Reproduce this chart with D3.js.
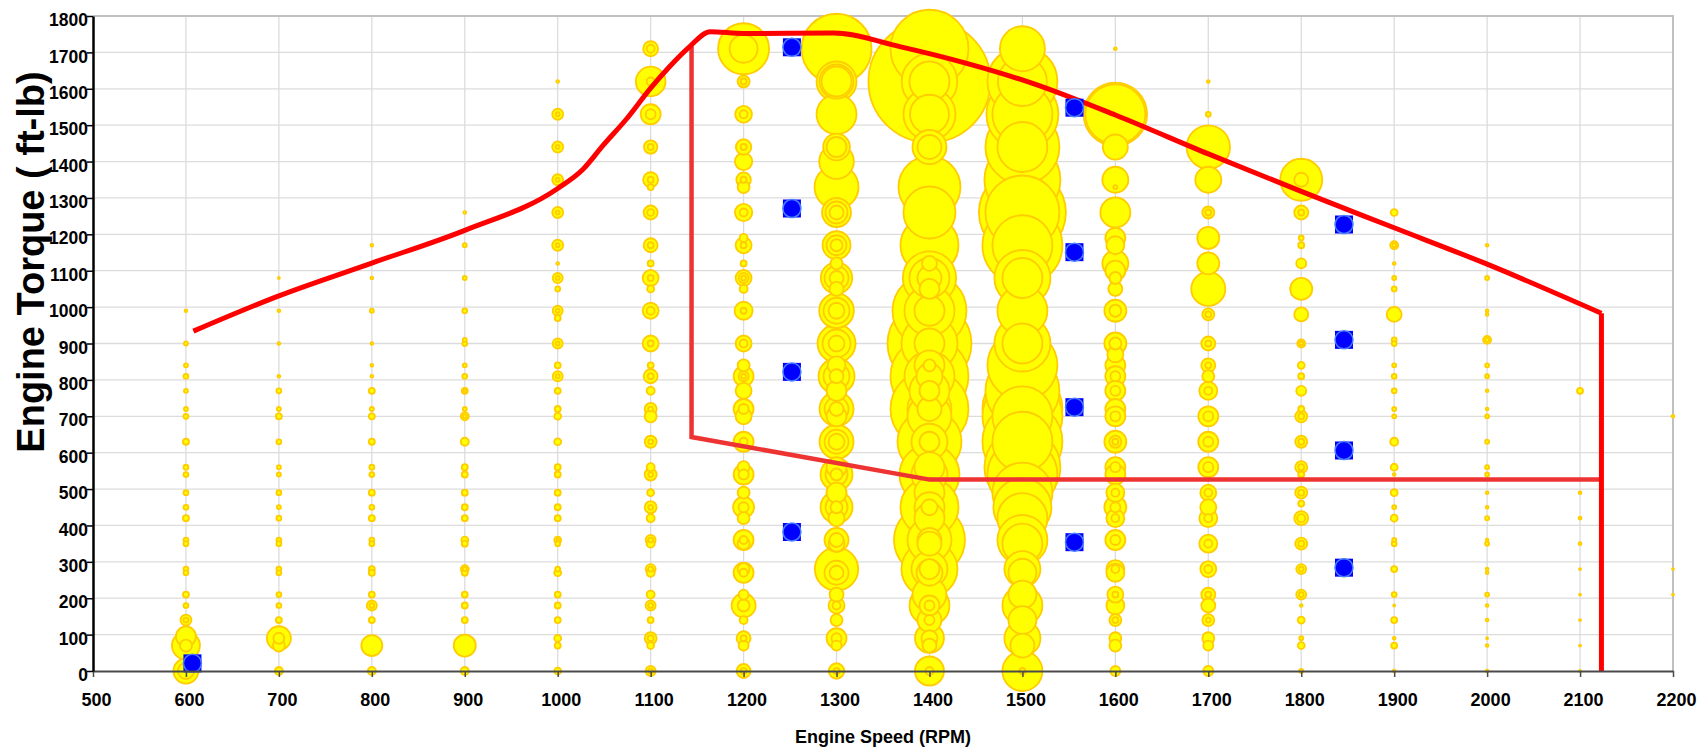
<!DOCTYPE html>
<html>
<head>
<meta charset="utf-8">
<script src="https://cdn.jsdelivr.net/npm/d3@7/dist/d3.min.js"></script>
<style>
    body { margin: 0; background: #ffffff; }
    svg { display: block; }
</style>
</head>
<body>
<script>

// engine speed columns (rpm)
var speeds = [600, 700, 800, 900, 1000, 1100, 1200, 1300, 1400, 1500, 1600, 1700, 1800, 1900, 2000, 2100, 2200];

// bubble points per speed column: [torque (ft-lb), time weight]
var col600 = [[990,2],[900,4],[840,4],[810,6],[770,4],[720,4],[700,6],[630,9],[560,6],[540,6],[490,6],[450,6],[420,9],[360,6],[350,6],[280,6],[270,6],[210,9],[180,6],[140,30],[140,6],[95,100],[70,196],[70,36],[0,156],[0,64]];
var col700 = [[1080,1],[990,2],[900,2],[810,2],[770,6],[720,4],[700,9],[630,6],[560,4],[540,4],[490,6],[450,4],[420,6],[360,6],[350,6],[280,6],[270,6],[210,6],[180,6],[140,9],[90,144],[90,30],[70,36],[0,16]];
var col800 = [[1170,2],[1080,2],[990,4],[900,2],[840,2],[810,2],[770,9],[720,4],[700,9],[630,9],[560,6],[540,6],[490,9],[450,6],[420,9],[360,6],[350,6],[280,9],[270,9],[210,9],[180,25],[180,6],[140,9],[70,110],[0,16]];
var col900 = [[1260,2],[1170,4],[1080,4],[990,6],[910,4],[900,6],[840,4],[810,6],[770,9],[770,2],[720,4],[700,16],[700,4],[630,16],[560,9],[540,9],[490,9],[450,9],[420,9],[360,12],[350,9],[280,16],[280,4],[270,9],[210,9],[180,9],[140,9],[70,121],[0,16]];
var col1000 = [[1620,2],[1530,30],[1530,4],[1440,30],[1440,4],[1350,30],[1350,4],[1260,30],[1260,4],[1170,30],[1170,4],[1120,2],[1080,25],[1080,4],[1050,6],[990,25],[990,4],[970,9],[900,25],[900,4],[840,9],[810,25],[810,4],[770,9],[720,9],[700,12],[630,12],[560,9],[540,9],[490,9],[450,9],[420,9],[360,12],[360,2],[350,6],[280,6],[270,12],[210,9],[180,9],[140,9],[90,12],[70,9],[0,12]];
var col1100 = [[1710,56],[1710,16],[1620,220],[1620,16],[1530,100],[1530,25],[1440,45],[1440,9],[1350,56],[1350,9],[1330,9],[1260,49],[1260,12],[1170,49],[1170,9],[1120,9],[1080,64],[1080,9],[1050,12],[990,64],[990,16],[900,64],[900,9],[840,9],[810,49],[810,9],[770,16],[720,36],[720,6],[700,36],[630,36],[630,6],[560,16],[540,36],[540,6],[490,12],[450,36],[450,6],[420,16],[360,25],[360,6],[350,16],[280,25],[280,6],[270,16],[210,16],[180,25],[180,6],[140,9],[90,36],[90,9],[70,12],[0,25],[0,6]];
var col1200 = [[1710,650],[1710,196],[1620,36],[1620,9],[1530,70],[1530,16],[1440,60],[1440,9],[1400,75],[1350,53],[1350,9],[1330,36],[1260,75],[1260,16],[1190,16],[1170,64],[1170,9],[1120,9],[1080,64],[1080,25],[1080,6],[1050,16],[990,81],[990,9],[900,64],[900,16],[840,36],[810,100],[810,25],[810,6],[770,64],[720,100],[720,25],[700,64],[630,100],[630,16],[560,36],[540,100],[540,25],[490,36],[450,110],[450,25],[420,36],[360,100],[360,16],[350,36],[280,36],[270,100],[270,16],[210,25],[180,144],[180,36],[140,16],[90,49],[90,9],[70,25],[0,49],[0,9]];
var col1300 = [[1710,1225],[1620,400],[1620,289],[1620,225],[1530,400],[1440,178],[1440,100],[1400,300],[1330,484],[1260,210],[1260,121],[1260,49],[1170,196],[1170,100],[1170,36],[1120,36],[1080,246],[1080,144],[1080,49],[1050,49],[990,300],[990,169],[990,64],[900,361],[900,196],[900,64],[840,81],[810,324],[810,169],[810,49],[770,100],[720,289],[720,144],[720,49],[700,100],[630,289],[630,144],[630,64],[560,100],[540,256],[540,121],[540,36],[490,100],[450,256],[450,121],[450,36],[420,64],[360,144],[360,49],[350,64],[280,470],[270,144],[270,49],[210,49],[180,64],[180,16],[140,36],[90,100],[90,25],[70,25],[0,60],[0,9]];
var col1400 = [[1710,1521],[1620,3721],[1620,773],[1620,400],[1530,676],[1530,380],[1440,289],[1440,144],[1330,961],[1260,676],[1170,841],[1120,56],[1080,711],[1080,400],[1080,144],[1050,100],[990,1369],[990,625],[990,225],[900,1764],[900,784],[900,225],[840,225],[840,36],[810,1521],[810,625],[810,169],[770,400],[770,100],[720,1521],[720,484],[720,144],[700,484],[630,1024],[630,324],[630,100],[560,225],[540,900],[540,324],[490,225],[450,841],[450,225],[450,64],[420,225],[360,1260],[360,484],[360,144],[350,144],[280,784],[280,324],[280,100],[270,169],[210,289],[180,400],[180,100],[180,25],[140,144],[140,25],[90,210],[90,64],[70,49],[0,210],[0,16]];
var col1500 = [[1710,506],[1620,1225],[1620,600],[1530,1296],[1530,900],[1440,1369],[1440,625],[1350,1444],[1260,1892],[1260,1369],[1170,1600],[1170,900],[1080,784],[1080,400],[990,625],[900,784],[900,400],[840,1225],[770,1369],[720,1600],[700,1600],[700,900],[630,1600],[630,900],[560,1444],[540,1225],[490,900],[450,841],[420,625],[360,625],[350,400],[280,324],[270,196],[210,196],[180,400],[140,196],[90,324],[70,144],[0,400],[0,9]];
var col1600 = [[1710,2],[1530,1004],[1530,900],[1440,156],[1350,169],[1330,4],[1260,225],[1190,100],[1170,81],[1120,169],[1100,100],[1080,36],[1050,49],[990,121],[990,36],[900,121],[900,36],[870,64],[840,100],[810,100],[810,25],[770,100],[770,25],[720,100],[700,100],[700,25],[630,121],[630,36],[630,9],[560,100],[560,25],[540,100],[490,81],[490,16],[450,121],[450,25],[420,81],[420,16],[360,100],[360,25],[280,81],[280,16],[270,81],[210,64],[210,9],[180,81],[140,36],[140,9],[90,36],[70,36],[0,25]];
var col1700 = [[1620,2],[1530,6],[1440,470],[1350,169],[1260,36],[1260,9],[1190,121],[1120,121],[1050,289],[980,36],[980,9],[900,49],[900,9],[840,49],[840,9],[810,36],[770,81],[770,16],[700,100],[700,25],[630,100],[630,25],[560,100],[560,25],[490,64],[490,16],[450,64],[420,81],[420,16],[350,81],[350,16],[280,64],[280,16],[210,49],[210,9],[180,49],[140,36],[140,6],[90,36],[70,25],[0,25]];
var col1800 = [[1350,441],[1350,49],[1260,49],[1260,9],[1190,6],[1170,9],[1120,25],[1050,121],[980,49],[900,16],[900,4],[840,12],[810,9],[770,25],[720,9],[700,36],[700,9],[630,36],[630,9],[560,36],[560,9],[540,9],[490,36],[490,9],[460,9],[420,49],[420,16],[350,36],[350,9],[280,25],[280,6],[210,25],[210,6],[180,2],[140,12],[90,4],[70,12],[0,4]];
var col1900 = [[1260,12],[1170,16],[1170,4],[1120,2],[1080,4],[1050,6],[980,56],[910,6],[900,6],[840,4],[810,6],[770,6],[720,4],[700,4],[630,16],[560,12],[540,2],[490,12],[450,4],[420,12],[360,4],[350,6],[280,9],[210,6],[180,1],[140,9],[90,2],[70,9],[0,2]];
var col2000 = [[1170,2],[1080,4],[990,2],[980,2],[910,16],[910,4],[840,4],[810,4],[770,2],[720,2],[700,4],[630,4],[560,4],[540,4],[490,2],[450,2],[420,4],[360,2],[350,4],[280,2],[270,2],[210,4],[180,2],[140,2],[90,1],[70,2],[0,2]];
var col2100 = [[770,9],[490,2],[420,2],[350,2],[280,1],[210,1],[140,1],[70,1],[0,1]];
var col2200 = [[700,2],[280,1],[210,1]];

var columns = [col600, col700, col800, col900, col1000, col1100, col1200, col1300, col1400,
    col1500, col1600, col1700, col1800, col1900, col2000, col2100, col2200];

// test points [rpm, torque]
var testPoints = [[607,21],[1252,1714],[1252,1271],[1252,822],[1252,382],
    [1556,1548],[1556,1151],[1556,725],[1556,354],
    [1846,1227],[1846,910],[1846,606],[1846,284]];

// full load torque curve [rpm, torque]
var maxTorque = [[608,934],[700,1031],[800,1121],[900,1211],[1000,1326],[1027,1378],[1049,1445],
    [1074,1517],[1100,1602],[1120,1660],[1142,1716],[1164,1757],[1200,1752],[1297,1753],[1368,1716],
    [1440,1670],[1511,1615],[1600,1528],[1700,1421],[1800,1318],[1900,1218],[2000,1118],
    [2123,983]];
var maxDrop = [[2123,983],[2123,0]];

// test zone boundary [rpm, torque]
var zoneLine = [[1144,1717],[1144,643],[1400,526],[2123,526]];

var xTicks = d3.range(500, 2201, 100);
var yTicks = d3.range(0, 1801, 100);

var chart = function() {

    var width = 1701,
        height = 752,
        plotLeft = 93,
        plotRight = 1673,
        plotTop = 16,
        plotBottom = 671,
        font = '"Liberation Sans", Arial, sans-serif';

    var x = d3.scaleLinear().domain([500, 2200]).range([plotLeft, plotRight]);
    var y = d3.scaleLinear().domain([0, 1800]).range([plotBottom, plotTop]);
    var r = d3.scaleSqrt().domain([0, 3721]).range([0, 61]);

    var svg = d3.select('body')
        .append('svg')
        .attr('width', width)
        .attr('height', height);

    // grid
    svg.append('g')
        .selectAll('line')
        .data(yTicks.slice(1, -1))
        .enter()
        .append('line')
        .attr('x1', plotLeft).attr('x2', plotRight)
        .attr('y1', function(d) { return y(d); })
        .attr('y2', function(d) { return y(d); })
        .attr('stroke', '#dcdcdc')
        .attr('stroke-width', 1.3);

    svg.append('g')
        .selectAll('line')
        .data(xTicks.slice(1, -1))
        .enter()
        .append('line')
        .attr('y1', plotTop).attr('y2', plotBottom)
        .attr('x1', function(d) { return x(d); })
        .attr('x2', function(d) { return x(d); })
        .attr('stroke', '#dcdcdc')
        .attr('stroke-width', 1.3);

    // plot border (top, right)
    svg.append('path')
        .attr('d', 'M' + plotLeft + ',' + plotTop + 'H' + plotRight + 'V' + plotBottom)
        .attr('fill', 'none')
        .attr('stroke', '#c0c0c0')
        .attr('stroke-width', 2);

    // bubbles, biggest first so small ones stay visible
    var bubbles = [];
    columns.forEach(function(col, i) {
        col.forEach(function(p) {
            bubbles.push({ rpm: speeds[i], torque: p[0], size: p[1] });
        });
    });
    bubbles.sort(function(a, b) { return b.size - a.size; });

    svg.append('g')
        .selectAll('circle')
        .data(bubbles)
        .enter()
        .append('circle')
        .attr('cx', function(d) { return x(d.rpm); })
        .attr('cy', function(d) { return y(d.torque); })
        .attr('r', function(d) { return r(d.size); })
        .attr('fill', '#ffff00')
        .attr('stroke', '#ffcc00')
        .attr('stroke-width', 1.8);

    // red lines
    var line = d3.line()
        .x(function(d) { return x(d[0]); })
        .y(function(d) { return y(d[1]); });

    svg.append('path')
        .attr('d', line(zoneLine))
        .attr('fill', 'none')
        .attr('stroke', '#ee3333')
        .attr('stroke-width', 4.5);

    svg.append('path')
        .attr('d', line.curve(d3.curveMonotoneX)(maxTorque))
        .attr('fill', 'none')
        .attr('stroke', '#ff0000')
        .attr('stroke-width', 5);

    svg.append('path')
        .attr('d', line.curve(d3.curveLinear)(maxDrop))
        .attr('fill', 'none')
        .attr('stroke', '#ff0000')
        .attr('stroke-width', 5);

    // test points
    var pts = svg.append('g')
        .selectAll('g')
        .data(testPoints)
        .enter()
        .append('g')
        .attr('transform', function(d) { return 'translate(' + x(d[0]) + ',' + y(d[1]) + ')'; });

    pts.append('rect')
        .attr('x', -9).attr('y', -9)
        .attr('width', 18).attr('height', 18)
        .attr('fill', '#0000ff');

    pts.append('circle')
        .attr('r', 9)
        .attr('fill', '#0000ff')
        .attr('stroke', '#4a80ff')
        .attr('stroke-width', 1.5);

    // axes
    var xAxis = svg.append('g')
        .attr('transform', 'translate(0,' + plotBottom + ')')
        .call(d3.axisBottom(x).tickValues(xTicks).tickFormat(d3.format('d'))
            .tickSize(6).tickSizeOuter(0).tickPadding(16));

    xAxis.select('.domain').attr('stroke', '#4a4a4a').attr('stroke-width', 2);
    xAxis.selectAll('.tick line').attr('stroke', '#4a4a4a').attr('stroke-width', 1.5);
    xAxis.selectAll('.tick text')
        .attr('dx', 3)
        .attr('font-family', font)
        .attr('font-size', '18px')
        .attr('font-weight', 'bold')
        .attr('fill', '#000');

    var yAxis = svg.append('g')
        .attr('transform', 'translate(' + plotLeft + ',0)')
        .call(d3.axisLeft(y).tickValues(yTicks).tickFormat(d3.format('d'))
            .tickSize(6).tickSizeOuter(0).tickPadding(-1));

    yAxis.select('.domain').attr('stroke', '#000').attr('stroke-width', 2.5);
    yAxis.selectAll('.tick line').attr('stroke', '#000').attr('stroke-width', 1.5);
    yAxis.selectAll('.tick text')
        .attr('dy', '0.55em')
        .attr('font-family', font)
        .attr('font-size', '17.5px')
        .attr('font-weight', 'bold')
        .attr('fill', '#000');

    // titles
    svg.append('text')
        .attr('x', (plotLeft + plotRight) / 2)
        .attr('y', 743)
        .attr('text-anchor', 'middle')
        .attr('font-family', font)
        .attr('font-size', '18px')
        .attr('font-weight', 'bold')
        .text('Engine Speed (RPM)');

    svg.append('text')
        .attr('transform', 'translate(44,262) rotate(-90)')
        .attr('text-anchor', 'middle')
        .attr('font-family', font)
        .attr('font-size', '38px')
        .attr('font-weight', 'bold')
        .text('Engine Torque ( ft-lb)');
};

chart();

</script>
</body>
</html>
